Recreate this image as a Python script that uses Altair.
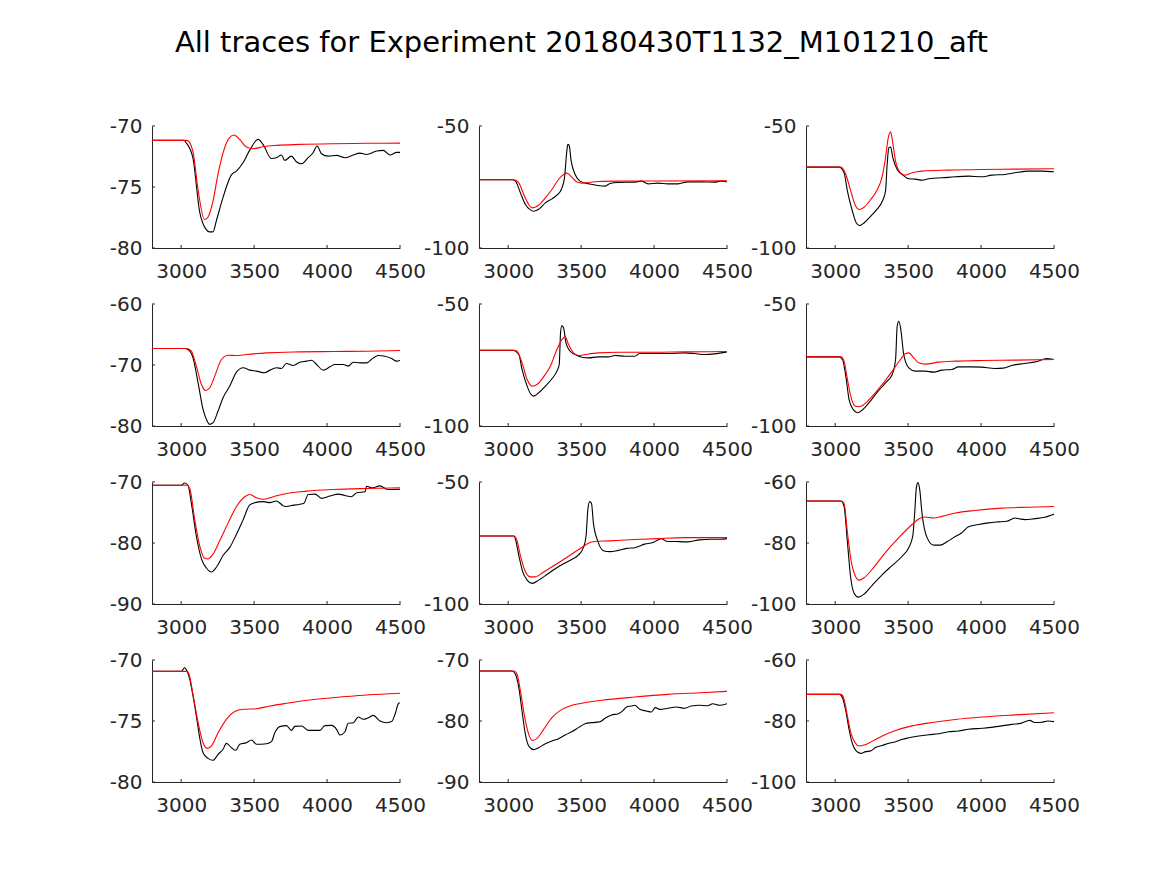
import altair as alt
import pandas as pd

TITLE = "All traces for Experiment 20180430T1132_M101210_aft"
X_DOMAIN = [2800, 4500]
X_TICKS = [3000, 3500, 4000, 4500]

Y_DOMAINS = [[-80, -70], [-100, -50], [-100, -50],
             [-80, -60], [-100, -50], [-100, -50],
             [-90, -70], [-100, -50], [-100, -60],
             [-80, -70], [-90, -70], [-100, -60]]
Y_TICKS = [[-80, -75, -70], [-100, -50], [-100, -50],
           [-80, -70, -60], [-100, -50], [-100, -50],
           [-90, -80, -70], [-100, -50], [-100, -80, -60],
           [-80, -75, -70], [-90, -80, -70], [-100, -80, -60]]

# ---- panel 1
p1_bx = [2800, 3020, 3034, 3080, 3126, 3172, 3195, 3218, 3240, 3286, 3343, 3378, 3424, 3469, 3527, 3561, 3618, 3653, 3687, 3710, 3756, 3790, 3824, 3870, 3904, 3932, 3962, 4007, 4065, 4122, 4179, 4225, 4271, 4340, 4385, 4431, 4477, 4500]
p1_by = [-71.18, -71.18, -71.37, -72.6, -76.99, -78.49, -78.68, -78.68, -77.81, -75.89, -74.03, -73.7, -73.01, -72.0, -71.1, -71.51, -72.66, -72.6, -72.38, -72.82, -72.47, -72.93, -73.1, -72.6, -72.19, -71.64, -72.27, -72.47, -72.41, -72.6, -72.38, -72.22, -72.33, -72.05, -72.0, -72.38, -72.16, -72.16]
p1_rx = [2800, 3040, 3080, 3114, 3160, 3183, 3218, 3252, 3298, 3332, 3362, 3401, 3447, 3492, 3561, 3653, 3813, 4042, 4271, 4500]
p1_ry = [-71.18, -71.18, -72.05, -75.07, -77.67, -77.48, -76.16, -73.97, -71.78, -70.96, -70.74, -71.1, -71.73, -71.86, -71.7, -71.59, -71.51, -71.45, -71.42, -71.4]

# ---- panel 2
p2_bx = [2800, 3027, 3050, 3084, 3118, 3152, 3175, 3209, 3255, 3300, 3334, 3364, 3386, 3402, 3409, 3418, 3432, 3459, 3493, 3550, 3618, 3664, 3698, 3755, 3868, 3914, 3959, 4027, 4095, 4164, 4232, 4323, 4414, 4459, 4500]
p2_by = [-72.05, -72.05, -72.6, -77.4, -82.19, -84.38, -84.93, -84.11, -81.51, -79.86, -78.36, -76.03, -71.23, -60.27, -57.53, -57.95, -64.38, -69.86, -72.6, -73.7, -74.38, -74.66, -73.56, -73.15, -73.01, -72.6, -73.7, -73.42, -73.7, -73.7, -72.88, -72.88, -73.01, -72.6, -72.88]
p2_rx = [2800, 3040, 3073, 3107, 3141, 3164, 3198, 3255, 3300, 3345, 3380, 3402, 3436, 3470, 3505, 3618, 3755, 4500]
p2_ry = [-72.05, -72.05, -73.29, -78.08, -82.19, -83.56, -82.88, -79.45, -76.03, -71.92, -69.86, -69.32, -70.96, -72.88, -73.42, -72.74, -72.6, -72.47]

# ---- panel 3
p3_bx = [2800, 3027, 3061, 3084, 3118, 3145, 3168, 3198, 3243, 3289, 3323, 3345, 3357, 3368, 3380, 3395, 3425, 3459, 3505, 3550, 3595, 3652, 3732, 3823, 3914, 4005, 4073, 4164, 4232, 4323, 4414, 4500]
p3_by = [-66.85, -66.85, -69.18, -76.71, -84.93, -89.73, -90.82, -89.73, -86.99, -83.97, -80.82, -76.71, -65.07, -58.9, -58.63, -63.01, -67.81, -69.86, -71.64, -71.78, -72.19, -71.51, -71.23, -70.82, -70.55, -70.82, -70.14, -69.86, -69.18, -68.49, -68.49, -68.77]
p3_rx = [2800, 3040, 3073, 3107, 3141, 3164, 3198, 3243, 3289, 3323, 3345, 3364, 3380, 3391, 3414, 3448, 3482, 3527, 3595, 3777, 4005, 4232, 4500]
p3_ry = [-66.85, -66.85, -69.86, -76.71, -82.88, -84.25, -83.29, -80.14, -76.03, -70.55, -63.01, -54.79, -52.33, -55.48, -64.38, -69.18, -70.14, -69.18, -68.49, -68.08, -67.81, -67.67, -67.53]

# ---- panel 4
p4_bx = [2800, 3024, 3047, 3081, 3116, 3150, 3173, 3196, 3219, 3253, 3287, 3333, 3379, 3425, 3470, 3516, 3573, 3608, 3653, 3688, 3721, 3768, 3814, 3859, 3894, 3928, 3974, 4020, 4054, 4111, 4145, 4180, 4225, 4271, 4317, 4351, 4397, 4443, 4477, 4500]
p4_by = [-67.3, -67.3, -67.47, -68.83, -72.92, -77.28, -78.91, -79.73, -79.46, -77.55, -75.37, -73.46, -71.17, -70.46, -70.84, -71.01, -71.28, -70.84, -70.46, -70.57, -69.75, -70.08, -69.54, -69.37, -69.21, -69.92, -70.84, -70.3, -69.92, -69.92, -70.19, -69.54, -69.65, -69.65, -68.83, -68.45, -68.56, -68.94, -69.37, -69.26]
p4_rx = [2800, 3040, 3070, 3104, 3139, 3168, 3196, 3230, 3276, 3322, 3379, 3447, 3585, 3814, 4042, 4271, 4500]
p4_ry = [-67.3, -67.3, -67.74, -70.19, -73.19, -74.17, -73.73, -71.83, -69.1, -68.39, -68.45, -68.28, -68.01, -67.85, -67.79, -67.74, -67.63]

# ---- panel 5
p5_bx = [2800, 3030, 3073, 3095, 3130, 3152, 3175, 3209, 3255, 3300, 3334, 3350, 3359, 3368, 3380, 3396, 3425, 3459, 3505, 3550, 3618, 3686, 3732, 3800, 3868, 3902, 3982, 4095, 4209, 4277, 4345, 4414, 4500]
p5_by = [-68.94, -68.94, -70.71, -76.84, -83.65, -86.65, -87.74, -86.38, -83.65, -80.65, -77.52, -74.8, -61.85, -58.86, -59.81, -65.94, -69.35, -70.71, -71.8, -72.07, -71.66, -71.66, -71.12, -71.39, -71.39, -70.3, -70.3, -70.3, -70.03, -70.3, -70.71, -70.44, -69.62]
p5_rx = [2800, 3040, 3061, 3095, 3130, 3164, 3198, 3243, 3289, 3334, 3368, 3391, 3414, 3448, 3482, 3527, 3618, 3755, 3982, 4209, 4500]
p5_ry = [-68.94, -68.94, -69.35, -74.11, -80.93, -83.65, -82.97, -79.84, -75.48, -68.66, -64.58, -63.49, -66.62, -70.03, -71.12, -70.71, -70.03, -69.75, -69.75, -69.62, -69.48]

# ---- panel 6
p6_bx = [2800, 3027, 3050, 3073, 3095, 3123, 3152, 3186, 3232, 3289, 3345, 3391, 3414, 3425, 3436, 3450, 3470, 3505, 3550, 3618, 3675, 3732, 3800, 3845, 3936, 4005, 4095, 4152, 4209, 4300, 4391, 4448, 4500]
p6_by = [-71.66, -71.66, -72.75, -79.56, -89.1, -93.19, -94.55, -93.46, -90.46, -86.1, -82.29, -78.88, -72.75, -59.13, -57.08, -60.49, -70.71, -76.16, -77.52, -77.52, -77.93, -77.11, -76.84, -75.75, -75.75, -75.89, -76.43, -76.29, -75.2, -74.39, -73.43, -72.34, -72.75]
p6_rx = [2800, 3040, 3061, 3084, 3107, 3136, 3164, 3198, 3255, 3323, 3391, 3448, 3482, 3505, 3539, 3573, 3618, 3709, 3823, 4005, 4232, 4500]
p6_ry = [-71.66, -71.66, -73.43, -80.93, -87.74, -91.83, -92.1, -91.14, -87.74, -82.97, -77.52, -72.75, -70.3, -70.03, -72.07, -74.11, -74.66, -73.84, -73.43, -73.16, -73.02, -72.75]

# ---- panel 7
p7_bx = [2800, 3001, 3024, 3047, 3070, 3104, 3139, 3173, 3207, 3242, 3287, 3333, 3379, 3425, 3470, 3505, 3562, 3608, 3653, 3711, 3756, 3814, 3841, 3871, 3917, 3962, 4020, 4077, 4122, 4168, 4203, 4260, 4271, 4306, 4363, 4408, 4454, 4500]
p7_by = [-70.54, -70.54, -70.16, -70.54, -73.49, -78.85, -82.6, -84.1, -84.75, -83.94, -82.06, -80.72, -78.58, -76.17, -73.75, -73.38, -73.22, -73.38, -73.11, -74.02, -73.86, -73.65, -73.49, -72.04, -71.98, -72.68, -72.31, -71.98, -72.2, -72.41, -71.77, -71.61, -70.7, -70.97, -70.64, -71.18, -71.23, -71.18]
p7_rx = [2800, 3040, 3059, 3093, 3127, 3161, 3184, 3219, 3264, 3322, 3379, 3436, 3470, 3516, 3562, 3631, 3722, 3859, 4042, 4271, 4500]
p7_ry = [-70.54, -70.54, -71.07, -76.17, -80.46, -82.49, -82.6, -81.8, -79.65, -76.7, -74.02, -72.41, -72.04, -72.57, -72.84, -72.41, -71.88, -71.5, -71.23, -71.07, -70.97]

# ---- panel 8
p8_bx = [2800, 3040, 3050, 3073, 3100, 3130, 3164, 3209, 3266, 3323, 3380, 3436, 3482, 3516, 3534, 3546, 3559, 3571, 3584, 3614, 3652, 3698, 3755, 3812, 3868, 3936, 3993, 4027, 4050, 4084, 4152, 4232, 4311, 4391, 4459, 4500]
p8_by = [-72.12, -72.12, -73.46, -80.16, -86.86, -90.21, -91.55, -90.21, -87.94, -85.52, -83.51, -81.77, -79.89, -76.81, -72.12, -61.39, -58.04, -58.71, -66.76, -74.13, -78.15, -78.55, -78.02, -77.21, -76.94, -75.47, -74.8, -73.73, -73.19, -74.26, -74.4, -74.53, -73.73, -73.46, -73.46, -73.19]
p8_rx = [2800, 3040, 3061, 3084, 3114, 3152, 3186, 3243, 3323, 3414, 3505, 3550, 3595, 3686, 3868, 4027, 4209, 4500]
p8_ry = [-72.12, -72.12, -74.13, -80.16, -86.19, -88.87, -88.87, -86.86, -83.91, -80.43, -76.81, -75.07, -74.4, -74.13, -73.59, -73.19, -72.79, -72.79]

# ---- panel 9
p9_bx = [2800, 3040, 3061, 3084, 3107, 3130, 3159, 3198, 3255, 3323, 3391, 3459, 3505, 3532, 3545, 3557, 3568, 3580, 3595, 3630, 3675, 3720, 3766, 3811, 3868, 3914, 3982, 4050, 4118, 4175, 4232, 4266, 4300, 4368, 4436, 4500]
p9_by = [-66.22, -66.22, -68.04, -79.84, -91.64, -96.46, -97.75, -96.78, -93.78, -90.35, -87.35, -84.34, -81.45, -77.69, -70.19, -61.61, -60.21, -62.68, -70.19, -78.23, -80.7, -80.7, -79.62, -78.23, -76.62, -74.69, -73.94, -73.4, -73.08, -72.87, -71.8, -72.12, -72.33, -72.01, -71.58, -70.51]
p9_rx = [2800, 3040, 3061, 3084, 3107, 3136, 3164, 3198, 3266, 3345, 3436, 3527, 3573, 3607, 3675, 3732, 3823, 3959, 4141, 4323, 4500]
p9_ry = [-66.22, -66.22, -66.97, -76.62, -85.2, -90.56, -92.17, -91.42, -87.88, -83.06, -78.23, -73.94, -72.12, -71.47, -71.8, -71.26, -70.19, -69.33, -68.58, -68.26, -68.04]

# ---- panel 10
p10_bx = [2800, 3001, 3013, 3024, 3040, 3059, 3081, 3104, 3127, 3150, 3184, 3219, 3253, 3287, 3310, 3345, 3374, 3402, 3447, 3482, 3516, 3585, 3619, 3642, 3676, 3722, 3756, 3779, 3825, 3871, 3951, 3985, 4031, 4065, 4088, 4122, 4145, 4180, 4214, 4248, 4283, 4317, 4363, 4408, 4443, 4466, 4489, 4500]
p10_by = [-70.93, -70.93, -70.77, -70.63, -70.9, -71.58, -72.95, -74.59, -76.37, -77.6, -78.06, -78.22, -77.73, -77.32, -76.83, -77.19, -77.4, -76.91, -76.78, -76.56, -76.91, -76.86, -76.69, -75.96, -75.46, -75.38, -75.77, -75.44, -75.41, -75.77, -75.77, -75.38, -75.36, -75.68, -76.15, -75.9, -75.19, -75.14, -74.67, -74.86, -74.73, -74.54, -75.0, -75.14, -75.05, -74.45, -73.58, -73.5]
p10_rx = [2800, 3040, 3054, 3081, 3116, 3150, 3178, 3207, 3253, 3310, 3367, 3425, 3516, 3608, 3722, 3882, 4042, 4271, 4500]
p10_ry = [-70.93, -70.93, -71.17, -72.81, -75.14, -76.78, -77.24, -77.05, -75.96, -74.86, -74.23, -74.04, -73.99, -73.77, -73.55, -73.28, -73.09, -72.87, -72.73]

# ---- panel 11
p11_bx = [2800, 3027, 3050, 3073, 3095, 3118, 3141, 3175, 3209, 3255, 3300, 3345, 3391, 3436, 3482, 3527, 3573, 3630, 3664, 3709, 3755, 3789, 3811, 3845, 3868, 3902, 3948, 3982, 4009, 4039, 4095, 4152, 4209, 4255, 4311, 4368, 4402, 4448, 4500]
p11_by = [-71.8, -71.8, -72.35, -74.54, -78.36, -82.19, -84.1, -84.7, -84.37, -83.72, -83.28, -82.9, -82.3, -81.75, -81.09, -80.44, -80.27, -80.11, -79.56, -79.02, -78.8, -78.25, -77.7, -77.54, -77.43, -78.09, -78.36, -78.52, -77.81, -78.09, -77.92, -77.7, -77.92, -77.54, -77.43, -77.49, -77.16, -77.43, -77.16]
p11_rx = [2800, 3040, 3061, 3084, 3114, 3141, 3168, 3198, 3243, 3300, 3368, 3436, 3505, 3641, 3868, 4095, 4323, 4500]
p11_ry = [-71.8, -71.8, -72.35, -75.08, -79.45, -82.19, -83.17, -82.84, -81.37, -79.45, -78.09, -77.43, -77.1, -76.61, -76.07, -75.63, -75.36, -75.14]

# ---- panel 12
p12_bx = [2800, 3030, 3050, 3073, 3095, 3118, 3141, 3175, 3209, 3243, 3277, 3323, 3368, 3414, 3459, 3505, 3573, 3641, 3709, 3777, 3845, 3914, 4005, 4073, 4141, 4209, 4277, 4334, 4368, 4414, 4459, 4500]
p12_by = [-71.26, -71.26, -72.35, -76.7, -82.7, -87.4, -89.6, -90.6, -90.05, -89.8, -88.7, -88.0, -87.3, -86.8, -86.0, -85.5, -84.9, -84.5, -84.2, -83.5, -83.3, -82.7, -82.4, -82.1, -81.6, -81.1, -80.7, -79.8, -80.5, -80.4, -80.0, -80.2]
p12_rx = [2800, 3040, 3061, 3084, 3107, 3136, 3164, 3198, 3255, 3323, 3414, 3527, 3664, 3823, 4005, 4232, 4500]
p12_ry = [-71.26, -71.26, -72.9, -78.4, -83.8, -87.1, -88.2, -87.9, -86.6, -84.9, -83.1, -81.6, -80.5, -79.5, -78.7, -78.0, -77.3]

BLACK = [(p1_bx, p1_by), (p2_bx, p2_by), (p3_bx, p3_by), (p4_bx, p4_by),
         (p5_bx, p5_by), (p6_bx, p6_by), (p7_bx, p7_by), (p8_bx, p8_by),
         (p9_bx, p9_by), (p10_bx, p10_by), (p11_bx, p11_by), (p12_bx, p12_by)]
RED = [(p1_rx, p1_ry), (p2_rx, p2_ry), (p3_rx, p3_ry), (p4_rx, p4_ry),
       (p5_rx, p5_ry), (p6_rx, p6_ry), (p7_rx, p7_ry), (p8_rx, p8_ry),
       (p9_rx, p9_ry), (p10_rx, p10_ry), (p11_rx, p11_ry), (p12_rx, p12_ry)]

W, H = 248, 122
AXIS_COLOR = "#262626"
FONT = "DejaVu Sans"


def make_panel(i):
    bx, by = BLACK[i]
    rx, ry = RED[i]
    df = pd.concat([
        pd.DataFrame({"t": bx, "v": by, "s": "a_measured"}),
        pd.DataFrame({"t": rx, "v": ry, "s": "b_model"}),
    ], ignore_index=True)
    xs = alt.Scale(domain=X_DOMAIN, nice=False, zero=False)
    ys = alt.Scale(domain=Y_DOMAINS[i], nice=False, zero=False)
    lines = alt.Chart(df).mark_line(strokeWidth=1.1, interpolate="monotone", clip=True).encode(
        x=alt.X("t:Q", scale=xs,
                axis=alt.Axis(values=X_TICKS, title=None, labelExpr="'' + datum.value",
                              labelFlush=False, labelOverlap=False, ticks=False, grid=False,
                              labelPadding=13)),
        y=alt.Y("v:Q", scale=ys,
                axis=alt.Axis(values=Y_TICKS[i], title=None, labelExpr="'' + datum.value",
                              labelFlush=False, labelOverlap=False, ticks=False, grid=False,
                              labelPadding=10)),
        color=alt.Color("s:N", scale=alt.Scale(domain=["a_measured", "b_model"],
                                               range=["#000000", "#ff0000"]), legend=None),
    )
    xt = alt.Chart(pd.DataFrame({"t": X_TICKS})).mark_rule(color=AXIS_COLOR, strokeWidth=1).encode(
        x=alt.X("t:Q", scale=xs), y=alt.value(H), y2=alt.value(H - 3))
    yt = alt.Chart(pd.DataFrame({"v": Y_TICKS[i]})).mark_rule(color=AXIS_COLOR, strokeWidth=1).encode(
        y=alt.Y("v:Q", scale=ys), x=alt.value(0), x2=alt.value(3))
    return alt.layer(lines, xt, yt).properties(width=W, height=H)


panels = [make_panel(i) for i in range(12)]

chart = alt.concat(
    *panels, columns=3, spacing={"row": 56, "column": 79}, bounds="flush"
).properties(
    title=alt.TitleParams(text=TITLE, font=FONT, fontSize=29, fontWeight="normal",
                          color="#000000", anchor="middle", dx=-13, offset=58),
    padding={"left": 101, "top": 21, "right": 5, "bottom": 5},
).configure_view(
    stroke=None
).configure_axis(
    domainColor=AXIS_COLOR, domainWidth=1, labelColor=AXIS_COLOR,
    labelFont=FONT, labelFontSize=20,
)

chart.save("out.html", embed_options={"renderer": "svg", "actions": False})
